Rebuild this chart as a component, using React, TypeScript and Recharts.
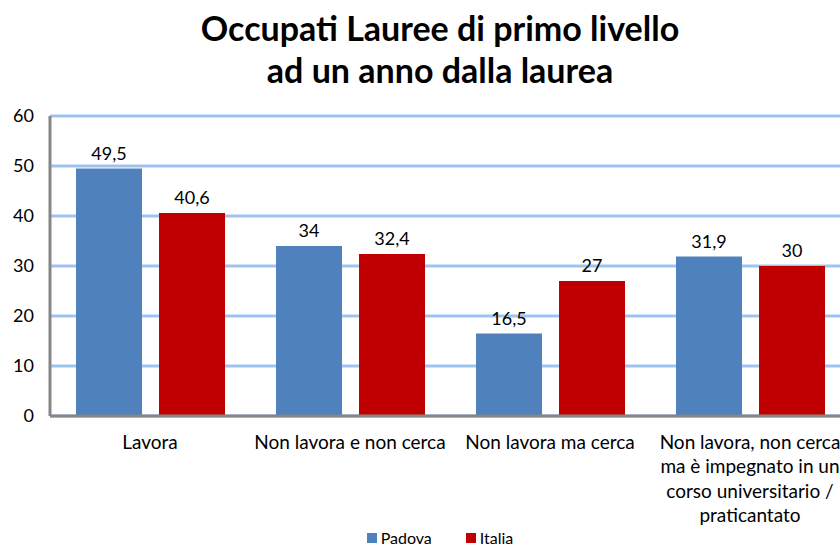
import React from 'react';
import { BarChart, Bar, XAxis, YAxis, CartesianGrid, LabelList, Legend } from 'recharts';

const categories = [
  'Lavora',
  'Non lavora e non cerca',
  'Non lavora ma cerca',
  'Non lavora, non cerca ma è impegnato in un corso universitario / praticantato',
];
const categoryLines = [
  ['Lavora'],
  ['Non lavora e non cerca'],
  ['Non lavora ma cerca'],
  ['Non lavora, non cerca', 'ma è impegnato in un', 'corso universitario /', 'praticantato'],
];
const padova = [49.5, 34, 16.5, 31.9];
const italia = [40.6, 32.4, 27, 30];
const yTicks = [0, 10, 20, 30, 40, 50, 60];

const data = categories.map((c, i) => ({ name: c, Padova: padova[i], Italia: italia[i] }));

const FONT = 'Lato, "Open Sans", sans-serif';

const fmt = (v: any) => String(v).replace('.', ',');

const XTick = (props: any) => {
  const { x, y, payload } = props;
  const idx = categories.indexOf(payload.value);
  const lines = categoryLines[idx] || [payload.value];
  return (
    <g>
      {lines.map((l, i) => (
        <text key={i} x={x} y={y + 25 + i * 24.4} textAnchor="middle" fontSize={19} fill="#000" fontFamily={FONT}>
          {l}
        </text>
      ))}
    </g>
  );
};

const LegendContent = () => (
  <div style={{ display: 'flex', justifyContent: 'center', fontFamily: FONT, fontSize: 16, lineHeight: '16px', color: '#000' }}>
    <span style={{ display: 'flex', alignItems: 'center', marginRight: 34 }}>
      <span style={{ width: 10, height: 10, background: '#4F81BD', marginRight: 4, display: 'inline-block' }} />
      Padova
    </span>
    <span style={{ display: 'flex', alignItems: 'center' }}>
      <span style={{ width: 10, height: 10, background: '#C00000', marginRight: 4, display: 'inline-block' }} />
      Italia
    </span>
  </div>
);

export default function App() {
  return (
    <div style={{ position: 'fixed', left: 0, top: 0, width: 840, height: 548, overflow: 'hidden', background: '#fff' }}>
      <div
        style={{
          position: 'absolute',
          left: 0,
          top: 7,
          width: 880,
          textAlign: 'center',
          fontFamily: FONT,
          fontWeight: 700,
          fontSize: 34,
          lineHeight: '42px',
          color: '#000',
        }}
      >
        Occupati Lauree di primo livello
        <br />
        ad un anno dalla laurea
      </div>
      <BarChart
        width={880}
        height={548}
        data={data}
        margin={{ top: 116, right: 30, bottom: 16, left: 0 }}
        barSize={66}
        barGap={17}
      >
        <CartesianGrid vertical={false} stroke="#9DC3EE" strokeWidth={3} />
        <XAxis
          dataKey="name"
          height={100}
          interval={0}
          tick={<XTick />}
          tickLine={false}
          axisLine={{ stroke: '#868686', strokeWidth: 3 }}
        />
        <YAxis
          width={50}
          domain={[0, 60]}
          ticks={yTicks}
          tickLine={false}
          tickSize={0}
          tickMargin={16}
          axisLine={{ stroke: '#868686', strokeWidth: 3 }}
          tick={{ fontSize: 18, fill: '#000', fontFamily: FONT }}
        />
        <Legend content={<LegendContent />} wrapperStyle={{ top: 530, left: 0, width: 880 }} />
        <Bar dataKey="Padova" fill="#4F81BD" isAnimationActive={false}>
          <LabelList dataKey="Padova" position="top" offset={9} formatter={fmt} fontSize={18} fill="#000" fontFamily={FONT} />
        </Bar>
        <Bar dataKey="Italia" fill="#C00000" isAnimationActive={false}>
          <LabelList dataKey="Italia" position="top" offset={9} formatter={fmt} fontSize={18} fill="#000" fontFamily={FONT} />
        </Bar>
      </BarChart>
    </div>
  );
}
